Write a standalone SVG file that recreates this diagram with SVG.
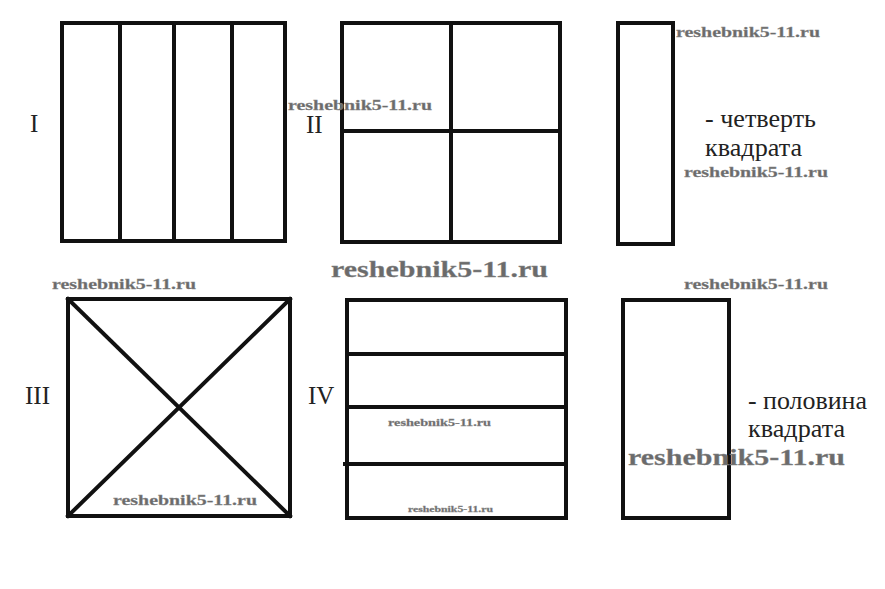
<svg xmlns="http://www.w3.org/2000/svg" width="885" height="589" viewBox="0 0 885 589">
<style>
.f{fill:none;stroke:#111;stroke-width:4;stroke-linecap:square}
.l{font-family:'Liberation Serif','Times New Roman','DejaVu Serif',serif;font-size:25px;fill:#222}
.t{font-family:'Liberation Serif','Times New Roman','DejaVu Serif',serif;font-size:26px;fill:#222}
.w{font-family:'Liberation Serif','Times New Roman','DejaVu Serif',serif;font-weight:bold;fill:#6b6b6b;stroke:#8a8a8a;stroke-width:0.3}
</style>
<rect width="885" height="589" fill="#fff"/>
<g id="fig1">
<rect class="f" x="62" y="23" width="223" height="218"/>
<line class="f" x1="120" y1="23" x2="120" y2="241"/>
<line class="f" x1="174" y1="23" x2="174" y2="241"/>
<line class="f" x1="232" y1="23" x2="232" y2="241"/>
<text class="l" x="30" y="132">I</text>
</g>
<g id="fig2">
<rect class="f" x="342" y="23" width="218" height="219"/>
<line class="f" x1="451" y1="23" x2="451" y2="242"/>
<line class="f" x1="342" y1="131" x2="560" y2="131"/>
<text class="l" x="306" y="133">II</text>
</g>
<g id="quarter">
<rect class="f" x="618" y="23" width="55" height="221"/>
<text class="t" x="705" y="127" textLength="111" lengthAdjust="spacingAndGlyphs">- четверть</text>
<text class="t" x="705" y="156" textLength="97" lengthAdjust="spacingAndGlyphs">квадрата</text>
</g>
<g id="fig3">
<rect class="f" x="68" y="299" width="222" height="217"/>
<line class="f" x1="68" y1="299" x2="290" y2="516" stroke-width="3.5"/>
<line class="f" x1="290" y1="299" x2="68" y2="516" stroke-width="3.5"/>
<text class="l" x="25" y="404">III</text>
</g>
<g id="fig4">
<rect class="f" x="347" y="300" width="219" height="218"/>
<line class="f" x1="347" y1="354" x2="566" y2="354"/>
<line class="f" x1="347" y1="407" x2="566" y2="407"/>
<line class="f" x1="345" y1="464" x2="566" y2="464"/>
<text class="l" x="308" y="404">IV</text>
</g>
<g id="half">
<rect class="f" x="623" y="300" width="106" height="218"/>
<text class="t" x="748" y="409" textLength="119" lengthAdjust="spacingAndGlyphs">- половина</text>
<text class="t" x="748" y="437" textLength="97" lengthAdjust="spacingAndGlyphs">квадрата</text>
</g>
<g id="watermarks">
<text class="w" x="676" y="37" font-size="15" textLength="144" lengthAdjust="spacingAndGlyphs">reshebnik5-11.ru</text>
<text class="w" x="288" y="110" font-size="15" textLength="144" lengthAdjust="spacingAndGlyphs">reshebnik5-11.ru</text>
<text class="w" x="684" y="177" font-size="15" textLength="144" lengthAdjust="spacingAndGlyphs">reshebnik5-11.ru</text>
<text class="w" x="331" y="277" font-size="23" textLength="217" lengthAdjust="spacingAndGlyphs">reshebnik5-11.ru</text>
<text class="w" x="52" y="289" font-size="15" textLength="144" lengthAdjust="spacingAndGlyphs">reshebnik5-11.ru</text>
<text class="w" x="684" y="289" font-size="15" textLength="144" lengthAdjust="spacingAndGlyphs">reshebnik5-11.ru</text>
<text class="w" x="388" y="426" font-size="11" textLength="103" lengthAdjust="spacingAndGlyphs">reshebnik5-11.ru</text>
<text class="w" x="408" y="512" font-size="9" textLength="85" lengthAdjust="spacingAndGlyphs">reshebnik5-11.ru</text>
<text class="w" x="113" y="505" font-size="15" textLength="144" lengthAdjust="spacingAndGlyphs">reshebnik5-11.ru</text>
<text class="w" x="628" y="465" font-size="23" textLength="217" lengthAdjust="spacingAndGlyphs">reshebnik5-11.ru</text>
</g>
</svg>
